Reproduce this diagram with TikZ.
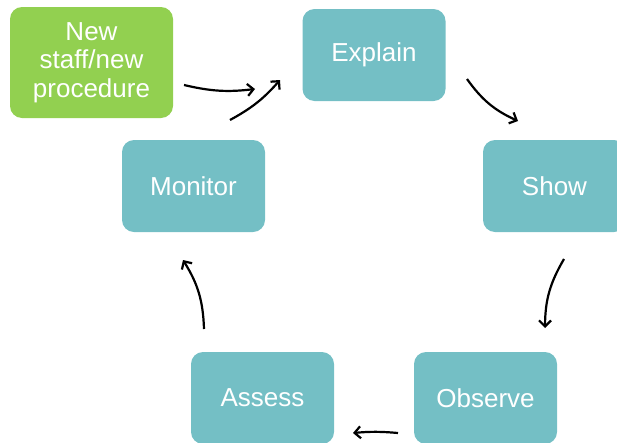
\documentclass[tikz,border=0pt]{standalone}
\usepackage{fontspec}
\setmainfont{Liberation Sans}
\usepackage{tikz}
\usetikzlibrary{arrows.meta}

\definecolor{stepteal}{HTML}{74BFC5}
\definecolor{startgreen}{HTML}{92D050}

\begin{document}
\begin{tikzpicture}[x=1pt, y=-1pt,
        stepbox/.style={rounded corners=12pt, fill=stepteal, text=white,
            minimum width=143pt, minimum height=92pt, align=center,
            font=\fontsize{26}{28.5}\selectfont},
        startbox/.style={stepbox, fill=startgreen, minimum width=163pt, minimum height=111pt},
        flow/.style={-{Straight Barb[length=6pt,width=12pt]}, line width=2.2pt, black}]
        \useasboundingbox (0,0) rectangle (617,442);
        \clip (0,0) rectangle (617,442);

        \node[startbox] (new) at (91.5,62.5) {New\\staff/new\\procedure};
        \node[stepbox] (explain) at (374,55) {Explain};
        \node[stepbox] (show) at (554.5,186) {Show};
        \node[stepbox] (observe) at (485.5,398) {Observe};
        \node[stepbox] (assess) at (262.5,398) {Assess};
        \node[stepbox] (monitor) at (193.5,186) {Monitor};

        % arrow ends
        \coordinate (a1) at (184,85);   \coordinate (b1) at (255,89);
        \coordinate (a2) at (230,120);  \coordinate (b2) at (280,80);
        \coordinate (a3) at (467,79);   \coordinate (b3) at (518,121);
        \coordinate (a4) at (564,259);  \coordinate (b4) at (545,328);
        \coordinate (a5) at (398,433);  \coordinate (b5) at (353,433);
        \coordinate (a6) at (204,329);  \coordinate (b6) at (183,260);

        \draw[flow] (a1) to[bend right=10] (b1);
        \draw[flow] (a2) to[bend right=10] (b2);
        \draw[flow] (a3) to[bend right=15] (b3);
        \draw[flow] (a4) to[bend right=15] (b4);
        \draw[flow] (a5) to[bend right=5] (b5);
        \draw[flow] (a6) to[bend right=15] (b6);
    \end{tikzpicture}
\end{document}
